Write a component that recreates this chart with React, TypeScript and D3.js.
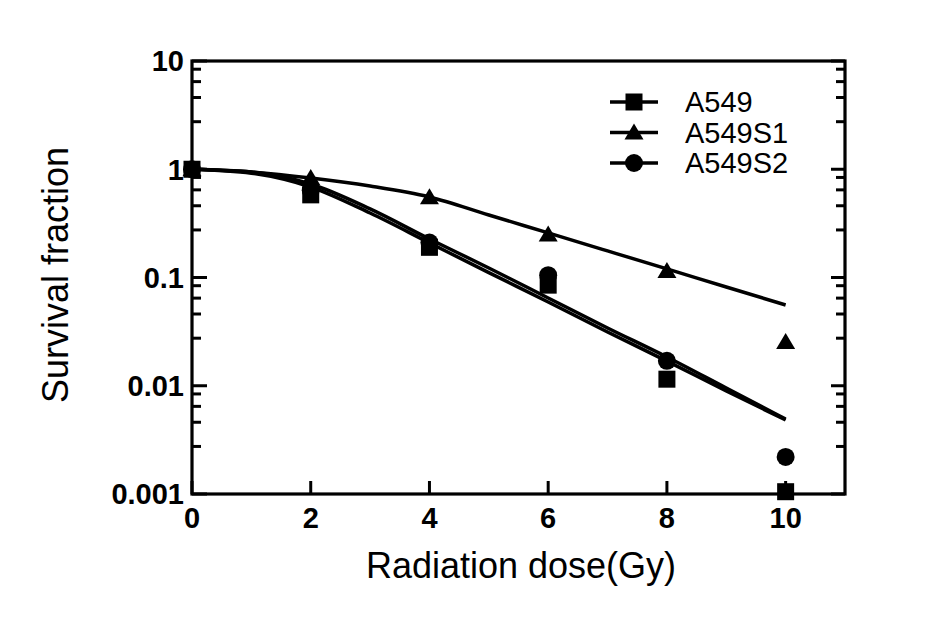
import * as d3 from 'd3';

// measured doses and survival fractions
const doses = [0, 2, 4, 6, 8, 10];
const a549 = [1, 0.58, 0.19, 0.085, 0.0115, 0.00105];
const a549s1 = [1, 0.83, 0.55, 0.25, 0.115, 0.0254];
const a549s2 = [1, 0.64, 0.21, 0.105, 0.017, 0.0022];

// fitted curves at each Gy
const fitDoses = [0, 1, 2, 3, 4, 5, 6, 7, 8, 9, 10];
const fitA549 = [1, 0.92, 0.685, 0.394, 0.209, 0.111, 0.0594, 0.0314, 0.0169, 0.00894, 0.00483];
const fitS1 = [1, 0.944, 0.83, 0.7, 0.555, 0.378, 0.258, 0.176, 0.12, 0.0817, 0.0557];
const fitS2 = [1, 0.944, 0.731, 0.43, 0.227, 0.1225, 0.0647, 0.0342, 0.01844, 0.00953, 0.00493];

const xTicks = [0, 2, 4, 6, 8, 10];
const yTicks = [0.001, 0.01, 0.1, 1, 10];
const yTickLabels = ['0.001', '0.01', '0.1', '1', '10'];
const minorMult = [2.75, 4.6, 6.45, 8.4];

const legendNames = ['A549', 'A549S1', 'A549S2'];

const width = 945;
const height = 618;
const marginLeft = 192;
const marginRight = 100;
const marginTop = 61;
const marginBottom = 124;

const font = 'Liberation Sans, Arial, sans-serif';

function Marker({ kind, cx, cy }: { kind: string; cx: number; cy: number }) {
    if (kind === 'square') return <rect x={cx - 8.5} y={cy - 8.5} width={17} height={17} fill="black" />;
    if (kind === 'triangle')
        return <path d={`M${cx},${cy - 9}L${cx + 9.5},${cy + 7}L${cx - 9.5},${cy + 7}Z`} fill="black" />;
    return <circle cx={cx} cy={cy} r={9} fill="black" />;
}

export default function App() {
    const x = d3.scaleLinear([0, 11], [marginLeft, width - marginRight]);
    const y = d3.scaleLog([0.001, 10], [height - marginBottom, marginTop]);

    const line = d3
        .line<number>()
        .x((_, i) => x(fitDoses[i]))
        .y((d) => y(d))
        .curve(d3.curveMonotoneX);

    const minors: number[] = [];
    yTicks.slice(0, -1).forEach((t) => minorMult.forEach((m) => minors.push(t * m)));

    const x0 = x(0);
    const x1 = x(11);
    const yb = y(0.001);
    const yt = y(10);

    const series = [
        { vals: a549, kind: 'square' },
        { vals: a549s1, kind: 'triangle' },
        { vals: a549s2, kind: 'circle' },
    ];

    return (
        <div style={{ position: 'absolute', left: 0, top: 0 }}>
            <svg width={width} height={height} style={{ display: 'block', background: 'white' }}>
                {/* curves */}
                <g fill="none" stroke="black" strokeWidth={3.5}>
                    <path d={line(fitA549) ?? ''} />
                    <path d={line(fitS2) ?? ''} />
                    <path d={line(fitS1) ?? ''} />
                </g>

                {/* frame */}
                <rect x={x0} y={yt} width={x1 - x0} height={yb - yt} fill="none" stroke="black" strokeWidth={3.2} />

                {/* ticks */}
                <g stroke="black" strokeWidth={3}>
                    {xTicks.map((t) => (
                        <line key={t} x1={x(t)} x2={x(t)} y1={yb} y2={yb - 13} />
                    ))}
                    {yTicks.map((t) => (
                        <g key={t}>
                            <line x1={x0} x2={x0 + 15} y1={y(t)} y2={y(t)} />
                            <line x1={x1} x2={x1 - 14} y1={y(t)} y2={y(t)} />
                        </g>
                    ))}
                    {minors.map((t, i) => (
                        <g key={i}>
                            <line x1={x0} x2={x0 + 9} y1={y(t)} y2={y(t)} />
                            <line x1={x1} x2={x1 - 9} y1={y(t)} y2={y(t)} />
                        </g>
                    ))}
                </g>

                {/* tick labels */}
                <g fontFamily={font} fontWeight="bold" fontSize={29} fill="black">
                    {xTicks.map((t) => (
                        <text key={t} x={x(t)} y={528} textAnchor="middle">
                            {t}
                        </text>
                    ))}
                    {yTicks.map((t, i) => (
                        <text key={t} x={x0 - 8} y={y(t)} dy="0.36em" textAnchor="end">
                            {yTickLabels[i]}
                        </text>
                    ))}
                </g>

                {/* markers */}
                {series.map((s) =>
                    s.vals.map((v, i) => <Marker key={s.kind + i} kind={s.kind} cx={x(doses[i])} cy={y(v)} />)
                )}

                {/* axis titles */}
                <text x={521} y={578} textAnchor="middle" fontFamily={font} fontSize={36}>
                    Radiation dose(Gy)
                </text>
                <text
                    transform="translate(68,275) rotate(-90)"
                    textAnchor="middle"
                    fontFamily={font}
                    fontSize={36}
                >
                    Survival fraction
                </text>

                {/* legend */}
                <g fontFamily={font} fontSize={29}>
                    {legendNames.map((name, i) => {
                        const ly = 102 + i * 30.5;
                        return (
                            <g key={name}>
                                <line x1={610} x2={658} y1={ly} y2={ly} stroke="black" strokeWidth={3.5} />
                                <Marker kind={series[i].kind} cx={634} cy={ly} />
                                <text x={685} y={ly} dy="0.36em">
                                    {name}
                                </text>
                            </g>
                        );
                    })}
                </g>
            </svg>
        </div>
    );
}
